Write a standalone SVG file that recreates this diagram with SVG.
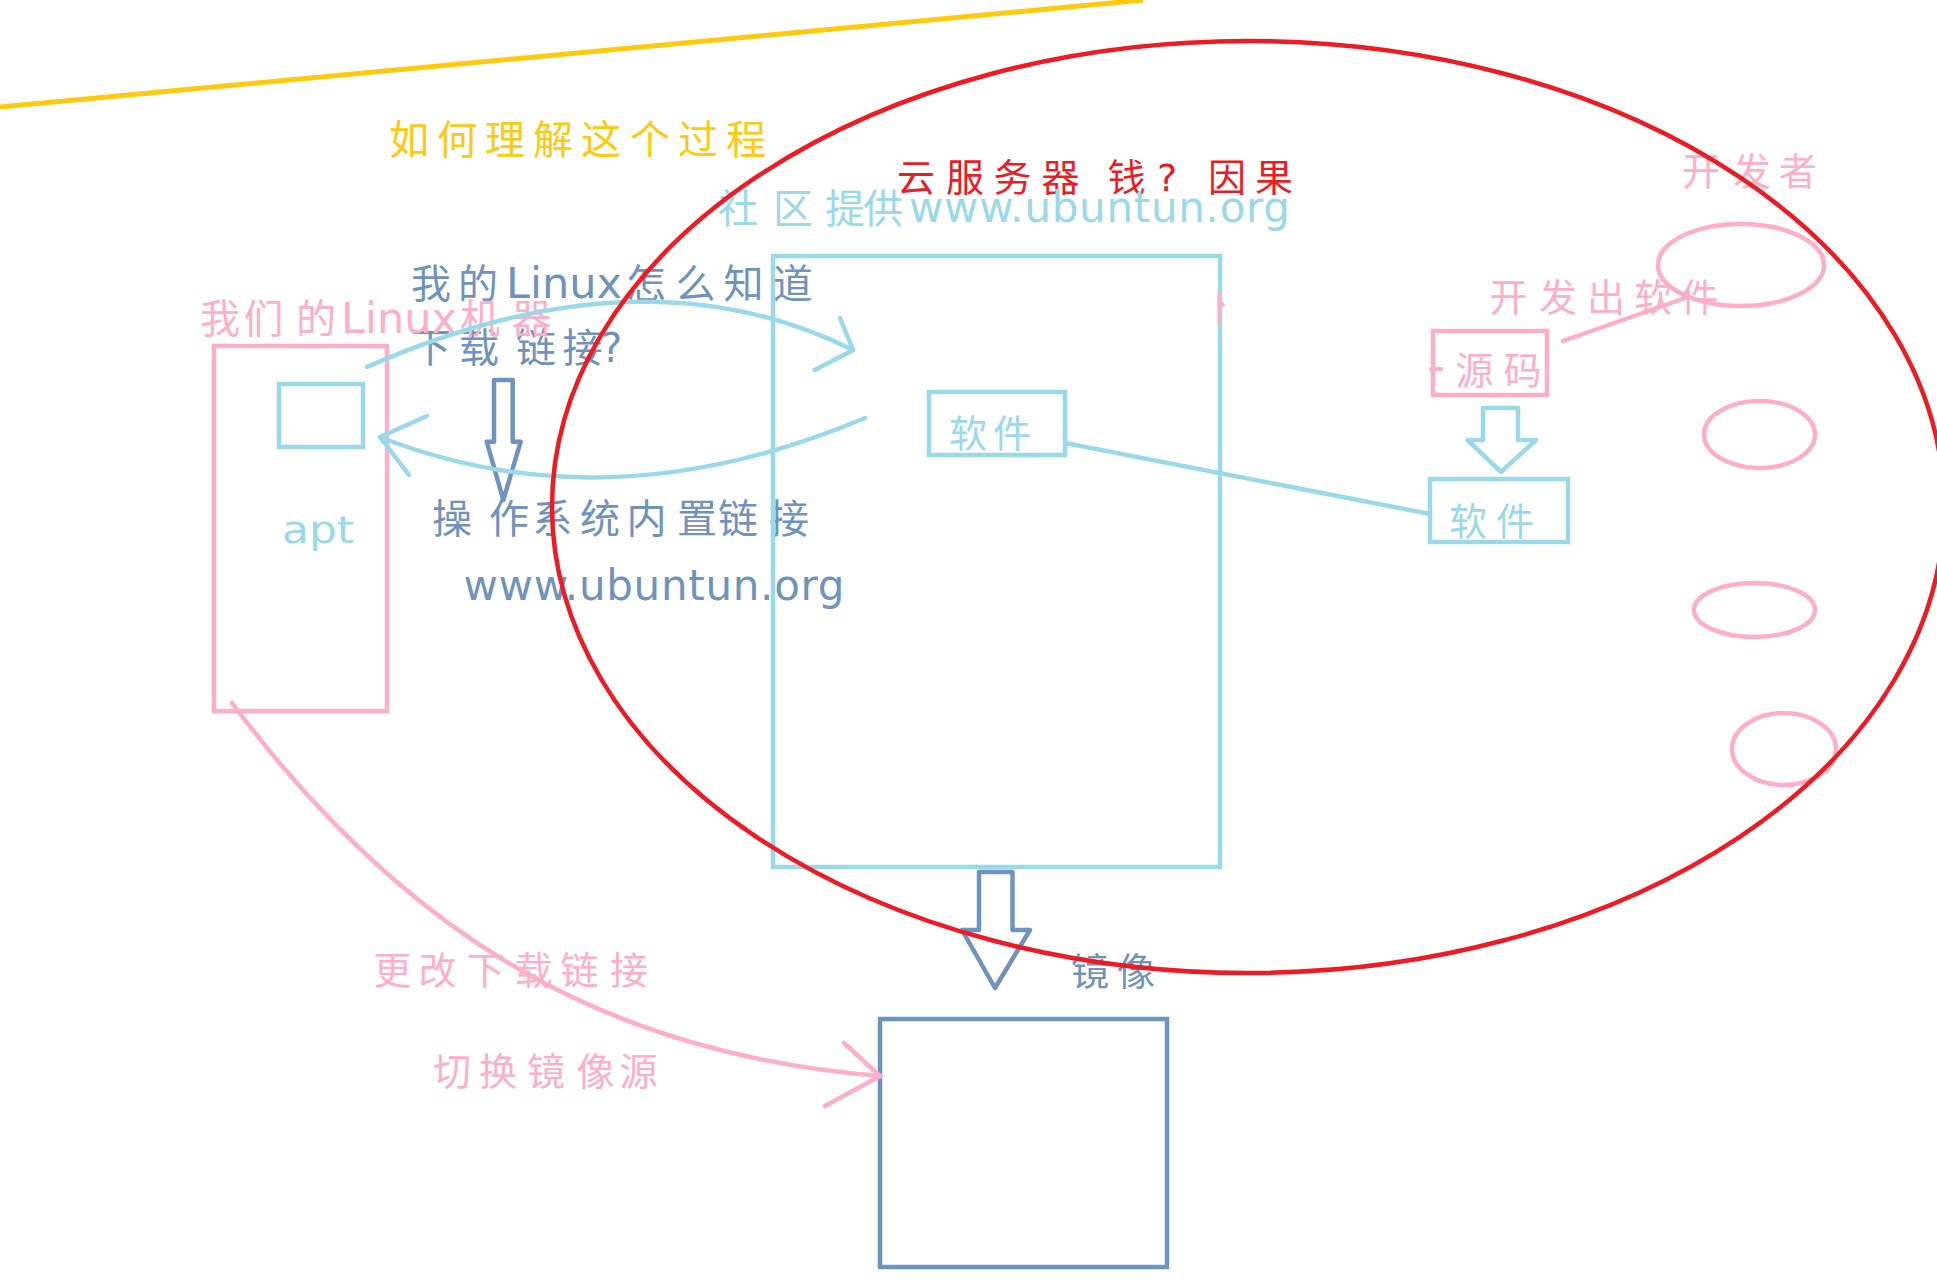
<svg xmlns="http://www.w3.org/2000/svg" width="1937" height="1282" viewBox="0 0 1937 1282">
<style>
.cn{font-family:"Noto Sans CJK SC","Noto Sans",sans-serif;font-size:40px}
.s36{font-size:38px}
.lat{font-family:"DejaVu Sans","Noto Sans CJK SC",sans-serif}
.pinkT{fill:#ffaec9}
.blueT{fill:#7092be}
.lbT{fill:#99d9ea}
.box{fill:none;stroke-width:4.5}
.pk{stroke:#ffaec9}
.lb{stroke:#99d9ea}
.bl{stroke:#7092be}
.ln{fill:none;stroke-width:4.5;stroke-linecap:round;stroke-linejoin:round}
</style>
<rect width="1937" height="1282" fill="#ffffff"/>

<g id="divider">
<line x1="0" y1="107" x2="1143" y2="0" stroke="#ffc90e" stroke-width="5"/>
</g>

<g id="title">
<text class="cn" y="154" fill="#ffc90e" x="389 437 485 533 581 630 678 726">如何理解这个过程</text>
</g>

<g id="cloud-label">
<text class="cn s36" y="191" fill="#ed1c24"><tspan x="897 946 993.5 1041.5">云服务器</tspan><tspan x="1107.5">钱</tspan><tspan x="1157" class="lat">?</tspan><tspan x="1208 1255">因果</tspan></text>
</g>

<g id="community-label">
<text class="cn lbT" y="223" x="718 773 825 863">社区提供</text>
<text class="lat lbT" x="909" y="222" font-size="42" textLength="381" lengthAdjust="spacing">www.ubuntun.org</text>
</g>

<g id="question-label">
<text class="cn blueT" y="298"><tspan x="411 458">我的</tspan><tspan x="506" class="lat" font-size="43">Linux</tspan><tspan x="626 675.5 723.6 772.7">怎么知道</tspan></text>
<text class="cn blueT" y="362"><tspan x="411 459 516 562.5">下载链接</tspan><tspan x="601" class="lat">?</tspan></text>
</g>

<g id="linux-machine">
<text class="cn pinkT" y="333"><tspan x="200 243.5 296">我们的</tspan><tspan x="341" class="lat" font-size="43">Linux</tspan><tspan x="460 511.5">机器</tspan></text>
<rect class="box pk" x="214" y="346" width="173" height="365"/>
<rect class="box lb" x="279" y="384" width="84" height="63"/>
<text class="lat lbT" x="282" y="543" font-size="38" textLength="72" lengthAdjust="spacingAndGlyphs">apt</text>
</g>

<g id="os-link">
<polygon class="ln bl" points="494,380 512.7,380 512.7,441.7 520.7,441.7 503.3,500 486.7,441.7 494,441.7" fill="none"/>
<text class="cn blueT" y="533" x="432 489 532.5 580 626.5 677 718 769">操作系统内置链接</text>
<text class="lat blueT" x="463.5" y="600" font-size="42" textLength="381" lengthAdjust="spacing">www.ubuntun.org</text>
</g>

<g id="server">
<rect class="box lb" x="773" y="256" width="447" height="611"/>
<path d="M1219,292 L1219,326 M1219,300 L1224,306" stroke="#ffaec9" stroke-width="3" fill="none"/>
</g>

<g id="server-software">
<rect class="box lb" x="929" y="392" width="136" height="63"/>
<text class="cn s36 lbT" y="447" x="949 993">软件</text>
</g>

<g id="source-code">
<rect class="box pk" x="1433" y="331" width="114" height="64"/>
<line x1="1431" y1="369" x2="1441" y2="369" stroke="#ffaec9" stroke-width="4" stroke-linecap="round"/>
<text class="cn s36 pinkT" y="384" x="1455.5 1503.5">源码</text>
</g>

<g id="dev-software">
<rect class="box lb" x="1430" y="479" width="138" height="63"/>
<text class="cn s36 lbT" y="535" x="1449 1496">软件</text>
</g>

<g id="dev-label">
<text class="cn s36 pinkT" y="311" x="1489.5 1539 1587 1634 1680.5">开发出软件</text>
<text class="cn s36 pinkT" y="185" x="1682 1733 1779">开发者</text>
</g>

<g id="developers">
<ellipse class="box pk" cx="1741" cy="265" rx="83" ry="41"/>
<ellipse class="box pk" cx="1759.5" cy="434.5" rx="55.5" ry="33.5"/>
<ellipse class="box pk" cx="1754.5" cy="610" rx="60.5" ry="27"/>
<ellipse class="box pk" cx="1784" cy="749" rx="52" ry="36"/>
</g>

<g id="mirror">
<rect class="box bl" x="880" y="1019" width="287" height="248"/>
<text class="cn s36 blueT" y="985" x="1071 1117">镜像</text>
</g>

<g id="switch-label">
<text class="cn s36 pinkT" y="984" x="373.5 418.5 466.5 514.5 560.5 610">更改下载链接</text>
<text class="cn s36 pinkT" y="1085" x="433 479 527 576.5 619.5">切换镜像源</text>
</g>

<g id="connectors">
<path class="ln lb" d="M367,367 Q642,245.5 853,350"/>
<path class="ln lb" d="M840,318 L853,350 L815,370"/>
<path class="ln lb" d="M865,418 Q607.5,526.5 380,437"/>
<path class="ln lb" d="M427,416 L380,437 L409,475"/>
<line class="ln lb" x1="1065" y1="443" x2="1430" y2="514"/>
<line class="ln pk" x1="1563" y1="341" x2="1688" y2="297"/>
<polygon class="ln lb" points="1483,408 1518,408 1518,440 1536,440 1501,472 1467.5,440 1483,440"/>
<polygon class="ln bl" points="979,872 1012.5,872 1012.5,930 1030,930 995,988 962,930 979,930"/>
<path class="ln pk" d="M232,703 C408,939 608,1054 880,1076" stroke-width="4"/>
<path class="ln pk" d="M844,1043 L880,1076 L825,1106"/>
</g>

<g id="cloud">
<ellipse cx="1248" cy="507" rx="696" ry="466" fill="none" stroke="#ed1c24" stroke-width="4.5"/>
</g>
</svg>
